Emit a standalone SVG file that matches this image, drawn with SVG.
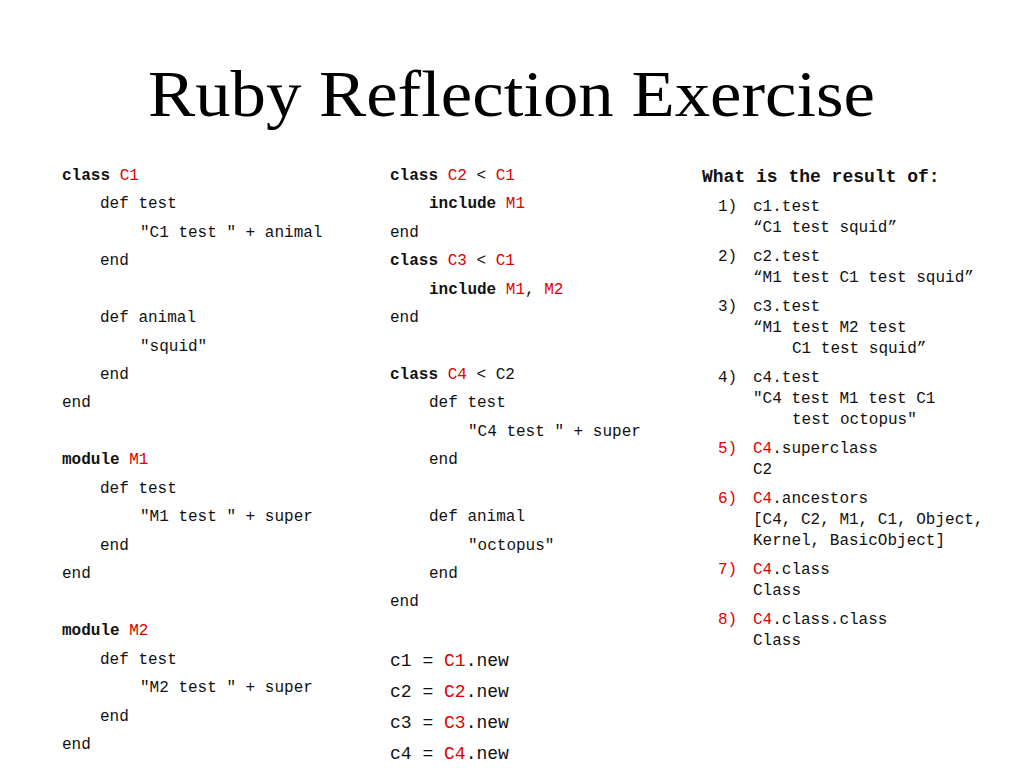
<svg xmlns="http://www.w3.org/2000/svg" width="1024" height="768" viewBox="0 0 1024 768">
<style>
text{font-family:"Liberation Mono","DejaVu Sans Mono",monospace;font-size:16px;fill:#111;white-space:pre}
.b{font-weight:bold}
.r{fill:#e00000}
.big{font-size:18px}
.t{font-family:"Liberation Serif","DejaVu Serif",serif;font-size:66px;fill:#000}
</style>
<rect width="1024" height="768" fill="#fff"/>
<text class="t" x="148" y="116" textLength="727" lengthAdjust="spacingAndGlyphs">Ruby Reflection Exercise</text>
<g id="left">
<text x="62" y="180"><tspan class="b">class</tspan> <tspan class="r">C1</tspan></text>
<text x="100" y="208">def test</text>
<text x="140" y="237">"C1 test " + animal</text>
<text x="100" y="265">end</text>
<text x="100" y="322">def animal</text>
<text x="140" y="351">"squid"</text>
<text x="100" y="379">end</text>
<text x="62" y="407">end</text>
<text x="62" y="464"><tspan class="b">module</tspan> <tspan class="r">M1</tspan></text>
<text x="100" y="493">def test</text>
<text x="140" y="521">"M1 test " + super</text>
<text x="100" y="550">end</text>
<text x="62" y="578">end</text>
<text x="62" y="635"><tspan class="b">module</tspan> <tspan class="r">M2</tspan></text>
<text x="100" y="664">def test</text>
<text x="140" y="692">"M2 test " + super</text>
<text x="100" y="721">end</text>
<text x="62" y="749">end</text>
</g>
<g id="middle">
<text x="390" y="180"><tspan class="b">class</tspan> <tspan class="r">C2</tspan> &lt; <tspan class="r">C1</tspan></text>
<text x="429" y="208"><tspan class="b">include</tspan> <tspan class="r">M1</tspan></text>
<text x="390" y="237">end</text>
<text x="390" y="265"><tspan class="b">class</tspan> <tspan class="r">C3</tspan> &lt; <tspan class="r">C1</tspan></text>
<text x="429" y="294"><tspan class="b">include</tspan> <tspan class="r">M1</tspan>, <tspan class="r">M2</tspan></text>
<text x="390" y="322">end</text>
<text x="390" y="379"><tspan class="b">class</tspan> <tspan class="r">C4</tspan> &lt; C2</text>
<text x="429" y="407">def test</text>
<text x="468" y="436">"C4 test " + super</text>
<text x="429" y="464">end</text>
<text x="429" y="521">def animal</text>
<text x="468" y="550">"octopus"</text>
<text x="429" y="578">end</text>
<text x="390" y="606">end</text>
<text class="big" x="390" y="666">c1 = <tspan class="r">C1</tspan>.new</text>
<text class="big" x="390" y="697">c2 = <tspan class="r">C2</tspan>.new</text>
<text class="big" x="390" y="728">c3 = <tspan class="r">C3</tspan>.new</text>
<text class="big" x="390" y="759">c4 = <tspan class="r">C4</tspan>.new</text>
</g>
<g id="right">
<text class="b big" x="702" y="182">What is the result of:</text>
<text x="718" y="211">1)</text><text x="753" y="211">c1.test</text>
<text x="753" y="232">“C1 test squid”</text>
<text x="718" y="261">2)</text><text x="753" y="261">c2.test</text>
<text x="753" y="282">“M1 test C1 test squid”</text>
<text x="718" y="311">3)</text><text x="753" y="311">c3.test</text>
<text x="753" y="332">“M1 test M2 test</text>
<text x="792" y="353">C1 test squid”</text>
<text x="718" y="382">4)</text><text x="753" y="382">c4.test</text>
<text x="753" y="403">"C4 test M1 test C1</text>
<text x="792" y="424">test octopus"</text>
<text class="r" x="718" y="453">5)</text><text x="753" y="453"><tspan class="r">C4</tspan>.superclass</text>
<text x="753" y="474">C2</text>
<text class="r" x="718" y="503">6)</text><text x="753" y="503"><tspan class="r">C4</tspan>.ancestors</text>
<text x="753" y="524">[C4, C2, M1, C1, Object,</text>
<text x="753" y="545">Kernel, BasicObject]</text>
<text class="r" x="718" y="574">7)</text><text x="753" y="574"><tspan class="r">C4</tspan>.class</text>
<text x="753" y="595">Class</text>
<text class="r" x="718" y="624">8)</text><text x="753" y="624"><tspan class="r">C4</tspan>.class.class</text>
<text x="753" y="645">Class</text>
</g>
</svg>
